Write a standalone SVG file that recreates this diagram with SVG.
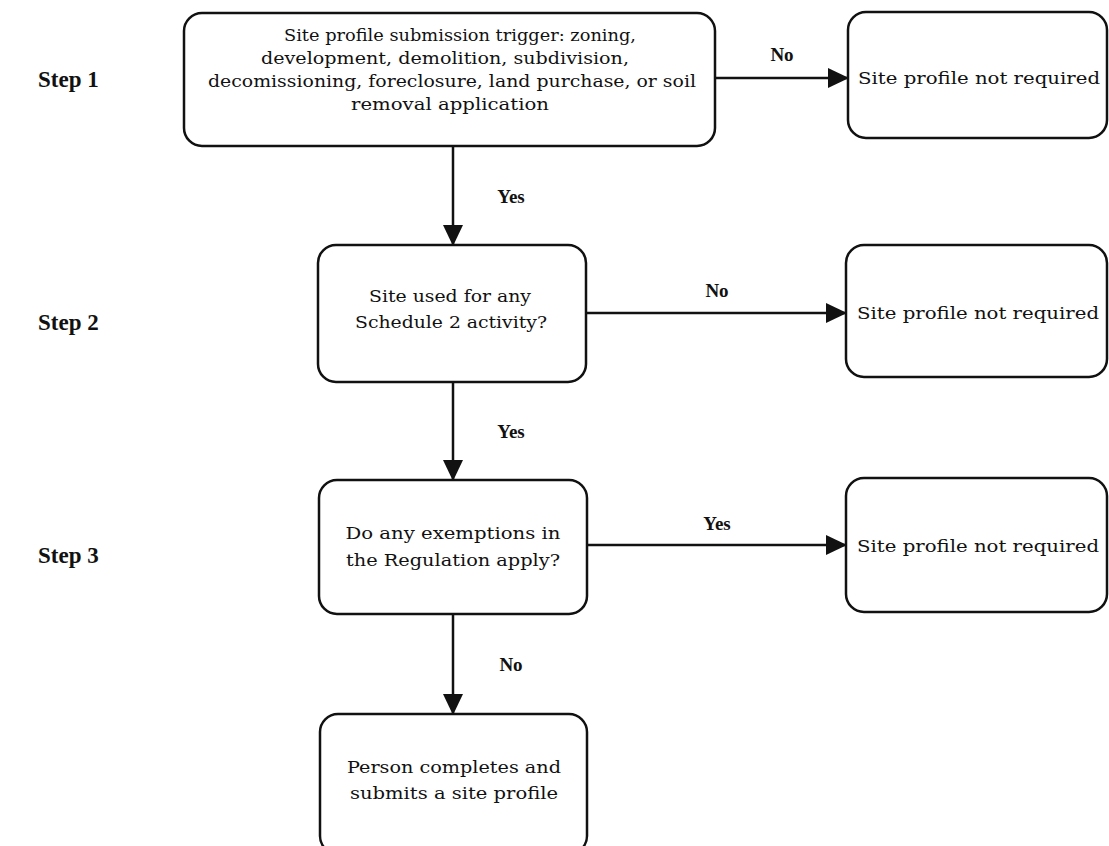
<svg xmlns="http://www.w3.org/2000/svg" width="1109" height="846" viewBox="0 0 1109 846">
<style>
.box{fill:#fff;stroke:#111;stroke-width:2.5}
.t{font-family:"DejaVu Serif","Liberation Serif",serif;font-size:17.5px;fill:#111;text-anchor:middle}
.lb{font-family:"Liberation Serif","Times New Roman",serif;font-size:19px;font-weight:bold;fill:#111;text-anchor:middle}
.st{font-family:"Liberation Serif","Times New Roman",serif;font-size:23px;font-weight:bold;fill:#111}
.ln{stroke:#111;stroke-width:2.5;fill:none}
</style>
<defs>
<marker id="ah" markerWidth="22" markerHeight="20" refX="20" refY="10" orient="auto" markerUnits="userSpaceOnUse">
<path d="M0,0 L21,10 L0,20 Z" fill="#111"/>
</marker>
</defs>
<rect width="1109" height="846" fill="#fff"/>
<g id="steps">
<text class="st" x="38" y="87">Step 1</text>
<text class="st" x="38" y="330">Step 2</text>
<text class="st" x="38" y="563">Step 3</text>
</g>
<g id="n1">
<rect class="box" x="184" y="13" width="531" height="133" rx="18"/>
<text class="t" x="460" y="41" textLength="352" lengthAdjust="spacingAndGlyphs">Site profile submission trigger:  zoning,</text>
<text class="t" x="445" y="64" textLength="368" lengthAdjust="spacingAndGlyphs">development, demolition, subdivision,</text>
<text class="t" x="452" y="87" textLength="488" lengthAdjust="spacingAndGlyphs">decomissioning, foreclosure, land purchase, or soil</text>
<text class="t" x="450" y="110" textLength="198" lengthAdjust="spacingAndGlyphs">removal application</text>
</g>
<g id="r1">
<rect class="box" x="848" y="12" width="259" height="126" rx="18"/>
<text class="t" x="979" y="84" textLength="242" lengthAdjust="spacingAndGlyphs">Site profile not required</text>
</g>
<g id="n2">
<rect class="box" x="318" y="245" width="268" height="137" rx="18"/>
<text class="t" x="450" y="302" textLength="162" lengthAdjust="spacingAndGlyphs">Site used for any</text>
<text class="t" x="451" y="328" textLength="192" lengthAdjust="spacingAndGlyphs">Schedule 2 activity?</text>
</g>
<g id="r2">
<rect class="box" x="846" y="245" width="261" height="132" rx="18"/>
<text class="t" x="978" y="319" textLength="242" lengthAdjust="spacingAndGlyphs">Site profile not required</text>
</g>
<g id="n3">
<rect class="box" x="319" y="480" width="268" height="134" rx="18"/>
<text class="t" x="453" y="539" textLength="215" lengthAdjust="spacingAndGlyphs">Do any exemptions in</text>
<text class="t" x="453" y="566" textLength="214" lengthAdjust="spacingAndGlyphs">the Regulation apply?</text>
</g>
<g id="r3">
<rect class="box" x="846" y="478" width="261" height="134" rx="18"/>
<text class="t" x="978" y="552" textLength="242" lengthAdjust="spacingAndGlyphs">Site profile not required</text>
</g>
<g id="n4">
<rect class="box" x="320" y="714" width="267" height="140" rx="18"/>
<text class="t" x="454" y="773" textLength="214" lengthAdjust="spacingAndGlyphs">Person completes and</text>
<text class="t" x="454" y="799" textLength="208" lengthAdjust="spacingAndGlyphs">submits a site profile</text>
</g>
<g id="connectors">
<line class="ln" x1="715" y1="78" x2="848" y2="78" marker-end="url(#ah)"/>
<text class="lb" x="782" y="61">No</text>
<line class="ln" x1="453" y1="146" x2="453" y2="245" marker-end="url(#ah)"/>
<text class="lb" x="511" y="203">Yes</text>
<line class="ln" x1="586" y1="313" x2="846" y2="313" marker-end="url(#ah)"/>
<text class="lb" x="717" y="297">No</text>
<line class="ln" x1="453" y1="382" x2="453" y2="480" marker-end="url(#ah)"/>
<text class="lb" x="511" y="438">Yes</text>
<line class="ln" x1="587" y1="545" x2="846" y2="545" marker-end="url(#ah)"/>
<text class="lb" x="717" y="530">Yes</text>
<line class="ln" x1="453" y1="614" x2="453" y2="714" marker-end="url(#ah)"/>
<text class="lb" x="511" y="671">No</text>
</g>
</svg>
